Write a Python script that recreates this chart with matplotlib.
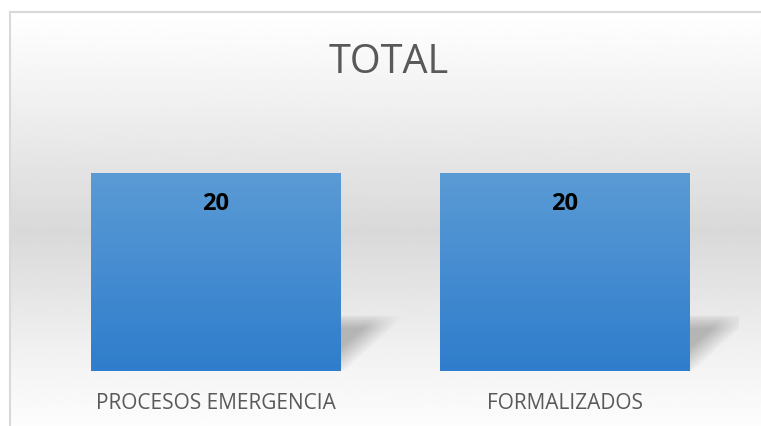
import numpy as np
import matplotlib
matplotlib.use("Agg")
import matplotlib.pyplot as plt
from matplotlib.colors import LinearSegmentedColormap

# datos del grafico
categorias = ["PROCESOS EMERGENCIA", "FORMALIZADOS"]
valores = [20, 20]
titulo = "TOTAL"

W, H = 761, 426
fig = plt.figure(figsize=(W / 100, H / 100), dpi=100)
fig.patch.set_facecolor("white")

# fondo del area del grafico: degradado blanco - gris - blanco
fondo = fig.add_axes([10 / W, 0, 1 - 10 / W, 1 - 12 / H])
fondo.set_axis_off()
t = np.linspace(0, 1, 400)
niv = np.interp(t, [0.0, 0.12, 0.53, 0.85, 1.0], [1.0, 0.97, 0.85, 0.955, 0.99])
fondo.imshow(np.repeat(niv[:, None], 2, axis=1), cmap="gray", vmin=0, vmax=1,
             aspect="auto", extent=[0, 1, 0, 1], origin="upper")
fondo.set_xlim(0, 1)
fondo.set_ylim(0, 1)
# borde del grafico (izquierda y arriba)
fig.add_artist(plt.Line2D([9.5 / W, 9.5 / W], [0, 1 - 12 / H], color="#d9d9d9", lw=1.5))
fig.add_artist(plt.Line2D([9.5 / W, 1], [1 - 12 / H, 1 - 12 / H], color="#d9d9d9", lw=1.5))

# ejes de las barras
x0, x1 = 41, 739
y_base, y_tope = 371, 123.5
ax = fig.add_axes([x0 / W, 1 - y_base / H, (x1 - x0) / W, (y_base - y_tope) / H])
ax.set_xlim(-0.5, 1.5)
ax.set_ylim(0, 25)
ax.set_axis_off()
ax.patch.set_alpha(0)

ancho = 249 / 349
azul = LinearSegmentedColormap.from_list("azul", ["#2f7dcc", "#5b9bd5"])
grad = np.linspace(0, 1, 256)[:, None]

for i, v in enumerate(valores):
    izq = i - ancho / 2
    der = i + ancho / 2
    # sombra en perspectiva a la derecha de la barra
    sx = np.linspace(0, 1, 120)
    sy = np.linspace(0, 1, 120)
    U, V = np.meshgrid(sx, sy)
    borde = 0.08 + 0.92 * V
    a = np.clip((borde - U) / 0.45, 0, 1)
    a *= np.clip((1 - V) / 0.25, 0, 1) ** 0.7
    a *= np.clip(V / 0.03 + 0.2, 0, 1)
    sombra = np.zeros((120, 120, 4))
    sombra[..., 3] = a * 0.24
    alto_s = v * 0.28
    ax.imshow(sombra, extent=[der, der + 0.19, 0, alto_s], origin="lower",
              aspect="auto", zorder=1, interpolation="bilinear")
    # barra con degradado vertical
    barra = ax.bar(i, v, width=ancho, color="none", zorder=2)[0]
    img = ax.imshow(grad, cmap=azul, extent=[izq, der, 0, v], origin="lower",
                    aspect="auto", zorder=2)
    img.set_clip_path(barra)
    ax.text(i, v - 3.1, str(v), ha="center", va="center", fontsize=17,
            fontweight="bold", color="black", family="Open Sans", zorder=3)
    ax.text(i, -3.3, categorias[i], ha="center", va="center", fontsize=15,
            color="#595959", family="Open Sans")

ax.set_xlim(-0.5, 1.5)
ax.set_ylim(0, 25)

fig.text(389 / W, 1 - 63 / H, titulo, ha="center", va="center", fontsize=28.5,
         color="#595959", family="Open Sans")

fig.savefig("out.png", dpi=100)
